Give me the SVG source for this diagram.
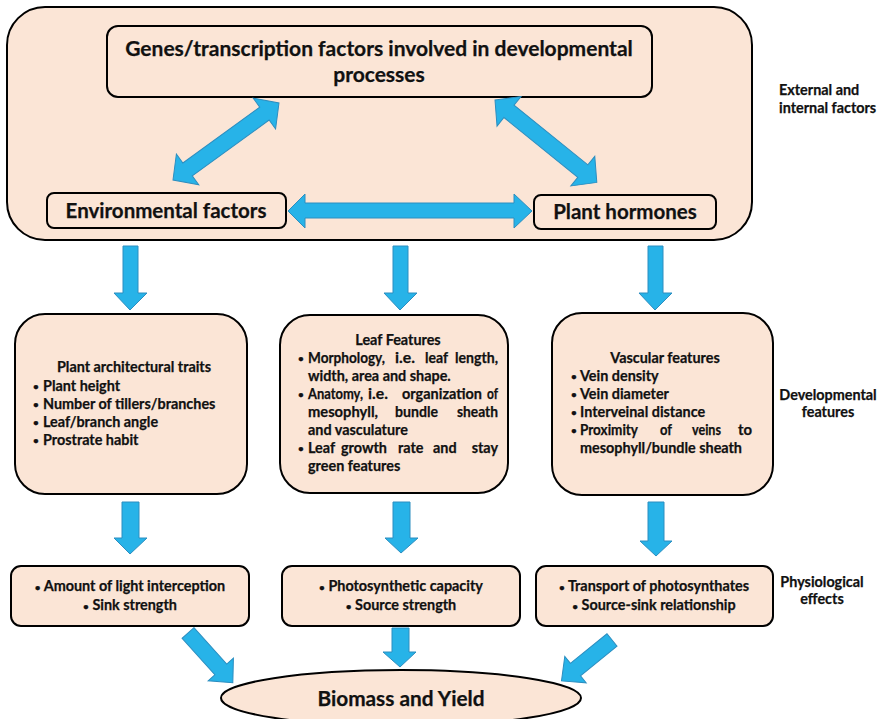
<svg xmlns="http://www.w3.org/2000/svg" width="881" height="719" viewBox="0 0 881 719">
<defs>
<style>
.box{fill:#FBE5D6;stroke:#000;stroke-width:2}
.arr{fill:#27B3E8;stroke:#2C8EC0;stroke-width:1}
text{font-family:Lato,"Liberation Sans",Arial,sans-serif;font-weight:bold;fill:#111;stroke:#111;stroke-width:0.25}
.t20{font-size:21px}
.t18{font-size:20.5px}
.t13{font-size:14.4px}
.b{font-size:10px}
.lab{font-size:14.4px}
.c{text-anchor:middle}
.e{text-anchor:end}
</style>
</defs>
<rect width="881" height="719" fill="#fff"/>
<g id="outer"><rect class="box" x="7" y="7" width="745" height="233" rx="38"/></g>
<g id="genes"><rect class="box" x="107" y="26" width="545" height="71" rx="11"/>
<text class="t20 c" x="379" y="56">Genes/transcription factors involved in developmental</text>
<text class="t20 c" x="379" y="82">processes</text></g>
<g id="env"><rect class="box" x="47" y="193" width="239" height="35" rx="7"/>
<text class="t18 c" x="166" y="218">Environmental factors</text></g>
<g id="horm"><rect class="box" x="534" y="195" width="182" height="34" rx="7"/>
<text class="t18 c" x="625" y="219">Plant hormones</text></g>
<g id="lbl1"><text class="lab" x="779" y="95">External and</text><text class="lab" x="779" y="113">internal factors</text></g>
<g id="arch"><rect class="box" x="15" y="314" width="232" height="180" rx="30"/>
<text class="t13 c" x="134" y="372">Plant architectural traits</text>
<text class="b" x="33" y="390">•</text><text class="t13" x="43" y="391">Plant height</text>
<text class="b" x="33" y="408">•</text><text class="t13" x="43" y="409">Number of tillers/branches</text>
<text class="b" x="33" y="426">•</text><text class="t13" x="43" y="427">Leaf/branch angle</text>
<text class="b" x="33" y="444">•</text><text class="t13" x="43" y="445">Prostrate habit</text></g>
<g id="leaf"><rect class="box" x="280" y="315" width="228" height="178" rx="30"/>
<text class="t13 c" x="398" y="345">Leaf Features</text>
<text class="b" x="298" y="362">•</text><text class="t13" x="308" y="363" textLength="77" lengthAdjust="spacingAndGlyphs">Morphology,</text><text class="t13" x="395" y="363" textLength="20" lengthAdjust="spacingAndGlyphs">i.e.</text><text class="t13" x="425" y="363" textLength="23" lengthAdjust="spacingAndGlyphs">leaf</text><text class="t13" x="455" y="363" textLength="43" lengthAdjust="spacingAndGlyphs">length,</text>
<text class="t13" x="308" y="381">width, area and shape.</text>
<text class="b" x="298" y="398">•</text><text class="t13" x="308" y="399" textLength="55" lengthAdjust="spacingAndGlyphs">Anatomy,</text><text class="t13" x="368" y="399" textLength="20" lengthAdjust="spacingAndGlyphs">i.e.</text><text class="t13" x="402" y="399" textLength="80" lengthAdjust="spacingAndGlyphs">organization</text><text class="t13" x="487" y="399" textLength="11" lengthAdjust="spacingAndGlyphs">of</text>
<text class="t13" x="308" y="417" textLength="70" lengthAdjust="spacingAndGlyphs">mesophyll,</text><text class="t13" x="395" y="417" textLength="43" lengthAdjust="spacingAndGlyphs">bundle</text><text class="t13" x="457" y="417" textLength="41" lengthAdjust="spacingAndGlyphs">sheath</text>
<text class="t13" x="308" y="435">and vasculature</text>
<text class="b" x="298" y="452">•</text><text class="t13" x="308" y="453">Leaf</text><text class="t13" x="341" y="453">growth</text><text class="t13" x="398" y="453">rate</text><text class="t13" x="433" y="453">and</text><text class="t13 e" x="498" y="453">stay</text>
<text class="t13" x="308" y="471">green features</text></g>
<g id="vasc"><rect class="box" x="552" y="313" width="221" height="182" rx="30"/>
<text class="t13 c" x="665" y="363">Vascular features</text>
<text class="b" x="571" y="380">•</text><text class="t13" x="580" y="381">Vein density</text>
<text class="b" x="571" y="398">•</text><text class="t13" x="580" y="399">Vein diameter</text>
<text class="b" x="571" y="416">•</text><text class="t13" x="580" y="417">Interveinal distance</text>
<text class="b" x="571" y="434">•</text><text class="t13" x="580" y="435" textLength="58" lengthAdjust="spacingAndGlyphs">Proximity</text><text class="t13" x="660" y="435" textLength="12" lengthAdjust="spacingAndGlyphs">of</text><text class="t13" x="692" y="435" textLength="29" lengthAdjust="spacingAndGlyphs">veins</text><text class="t13" x="738" y="435" textLength="14" lengthAdjust="spacingAndGlyphs">to</text>
<text class="t13" x="580" y="453">mesophyll/bundle sheath</text></g>
<g id="lbl2"><text class="lab c" x="828" y="400">Developmental</text><text class="lab c" x="828" y="417">features</text></g>
<g id="light"><rect class="box" x="11" y="566" width="238" height="60" rx="10"/>
<text class="t13 c" x="130" y="591"><tspan class="b">•</tspan> Amount of light interception</text>
<text class="t13 c" x="130" y="610"><tspan class="b">•</tspan> Sink strength</text></g>
<g id="photo"><rect class="box" x="282" y="566" width="238" height="60" rx="10"/>
<text class="t13 c" x="401" y="591"><tspan class="b">•</tspan> Photosynthetic capacity</text>
<text class="t13 c" x="401" y="610"><tspan class="b">•</tspan> Source strength</text></g>
<g id="trans"><rect class="box" x="536" y="566" width="237" height="60" rx="10"/>
<text class="t13 c" x="654" y="591"><tspan class="b">•</tspan> Transport of photosynthates</text>
<text class="t13 c" x="654" y="610"><tspan class="b">•</tspan> Source-sink relationship</text></g>
<g id="lbl3"><text class="lab c" x="822" y="587">Physiological</text><text class="lab c" x="822" y="604">effects</text></g>
<g id="yield"><ellipse class="box" cx="401" cy="698" rx="180" ry="28"/>
<text class="c" style="font-size:20.8px" x="401" y="706">Biomass and Yield</text></g>
<g id="connectors">
<polygon class="arr" transform="translate(173,180) rotate(-36)" points="0,0 18,-19 18,-8 113,-8 113,-19 131,0 113,19 113,8 18,8 18,19"/>
<polygon class="arr" transform="translate(495,100) rotate(39)" points="0,0 18,-19 18,-8 113,-8 113,-19 131,0 113,19 113,8 18,8 18,19"/>
<polygon class="arr" points="288,211 305,194 305,203 514,203 514,194 532,211 514,228 514,218 305,218 305,228"/>
<polygon class="arr" points="123,246 138,246 138,293 147,293 130,310 114,293 123,293"/>
<polygon class="arr" points="393,246 408,246 408,293 417,293 400,310 384,293 393,293"/>
<polygon class="arr" points="648,246 663,246 663,293 672,293 655,310 639,293 648,293"/>
<polygon class="arr" points="122,502 139,502 139,538 147,538 130,554 114,538 122,538"/>
<polygon class="arr" points="393,502 410,502 410,538 418,538 401,553 385,538 393,538"/>
<polygon class="arr" points="648,502 664,502 664,541 672,541 656,556 640,541 648,541"/>
<polygon class="arr" points="392,628 409,628 409,652 416,652 400,667 383,652 392,652"/>
<polygon class="arr" transform="translate(188,633) rotate(48)" points="0,-8 49,-8 49,-17 67,0 49,17 49,8 0,8"/>
<polygon class="arr" transform="translate(612,640) rotate(141)" points="0,-8 47,-8 47,-17 65,0 47,17 47,8 0,8"/>
</g>
</svg>
